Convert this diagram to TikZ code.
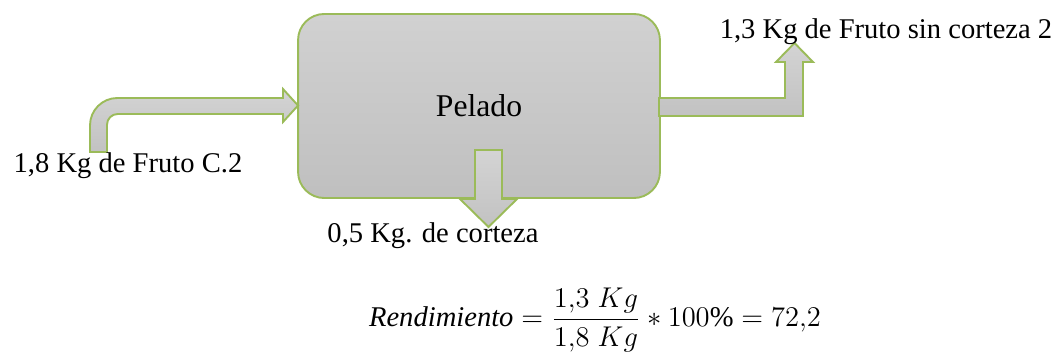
\documentclass[tikz,border=0pt]{standalone}
\usepackage{fontspec}
\setmainfont{Liberation Serif}
\definecolor{verde}{HTML}{9BBB59}
\tikzset{
  bloque/.style={draw=verde,line width=0.8pt,top color=gray!36,bottom color=gray!50,rounded corners=11pt},
  flecha/.style={draw=verde,line width=0.8pt,top color=gray!34,bottom color=gray!48,line join=miter}
}
\begin{document}
\begin{tikzpicture}[x=0.42pt,y=-0.42pt,every node/.style={font=\fontsize{12}{14}\selectfont}]
                        \useasboundingbox (0,0) rectangle (1063,356);
                        % Process block
                        \node[bloque,minimum width=152pt,minimum height=77.3pt,font=\fontsize{13.3}{15}\selectfont] (pelado) at (479,106) {Pelado};

                        % Flows
                        \path[flecha] (90,152) [rounded corners=11.5pt] -- (90,98) [sharp corners] -- (283,98) -- (283,89) -- (298,105.5) -- (283,122) -- (283,114) [rounded corners=4.5pt] -- (107,114) [sharp corners] -- (107,152) -- cycle;
                        \path[flecha] (475,150) -- (502,150) -- (502,199) -- (517,199) -- (488.5,227) -- (460,199) -- (475,199) -- cycle;
                        \path[flecha] (659,98) -- (785,98) -- (785,62) -- (776,62) -- (794.5,43) -- (813,62) -- (803,62) -- (803,116) -- (659,116) -- cycle;

                        % Labels
                        \node (entrada) at (128,166) {1,8 Kg de Fruto C.2};
                        \node (salida) at (886,32) {1,3 Kg de Fruto sin corteza 2};
                        \node (corteza) at (433,236) {0,5 Kg. de corteza};
                        \node (rendimiento) at (595,320) {$\displaystyle \textit{Rendimiento}=\frac{1{,}3\;Kg}{1{,}8\;Kg}*100\%=72{,}2$};
                    \end{tikzpicture}
\end{document}
